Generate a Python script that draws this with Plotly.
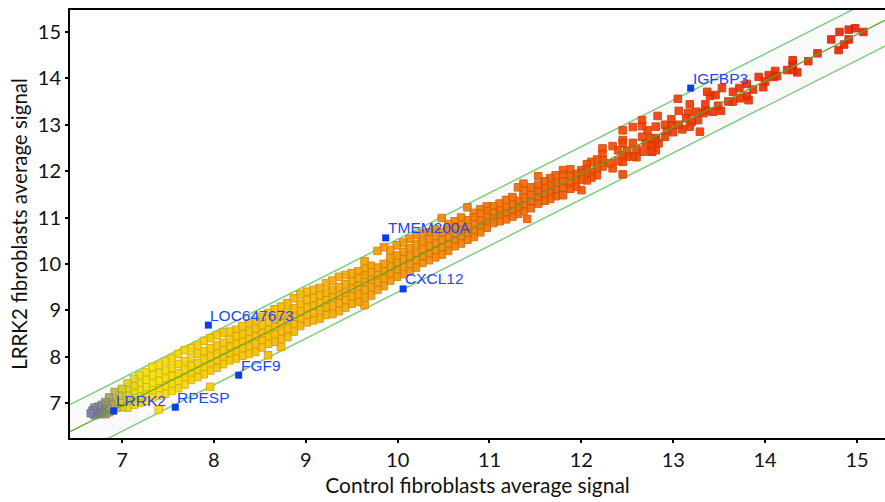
import plotly.graph_objects as go

column_x = [7.00,7.06,7.13,7.19,7.26,7.33,7.40,7.47,7.54,7.61,7.68,7.75,7.82,7.89,7.96,8.03,8.10,8.17,8.24,8.31,8.38,8.45,8.52,8.59,8.66,8.73,8.80,8.87,8.94,
            9.01,9.08,9.15,9.22,9.29,9.36,9.43,9.50,9.57,9.64,9.71,9.78,9.85,9.92,9.99,10.06,10.13,10.20,10.27,10.34,10.41,10.48,10.55,10.62,10.69,10.76,10.83,10.90,10.97,
            11.04,11.11,11.18,11.25,11.31,11.37,11.41,11.45,11.53,11.60,11.66,11.72,11.80,11.88,11.94,12.00,12.06,12.11,12.17,12.23,12.31,12.34,12.40,12.45,12.50,12.56,12.60]
column_y = [
[6.92,7.04,7.18,7.30],
[6.90,7.02,7.16,7.28,7.42],
[6.96,7.10,7.22,7.36,7.52],
[7.00,7.14,7.28,7.42,7.60],
[7.04,7.18,7.34,7.50,7.66],
[7.12,7.28,7.42,7.60,7.78],
[6.86,7.16,7.32,7.48,7.64,7.82],
[7.20,7.36,7.54,7.70,7.90],
[7.26,7.42,7.58,7.76,7.96],
[7.32,7.48,7.64,7.84,8.06],
[7.40,7.54,7.72,7.90,8.14],
[7.50,7.64,7.80,7.98,8.18],
[7.56,7.70,7.86,8.06,8.24],
[7.62,7.78,7.94,8.12,8.34],
[7.35,7.70,7.84,8.00,8.18,8.40],
[7.76,7.90,8.06,8.24,8.46],
[7.84,7.98,8.14,8.30,8.52],
[7.92,8.06,8.22,8.36,8.54],
[7.96,8.12,8.28,8.44,8.58],
[8.02,8.18,8.32,8.48,8.66],
[8.06,8.22,8.38,8.54,8.72],
[8.10,8.28,8.44,8.60,8.78],
[8.20,8.34,8.50,8.68,8.86],
[8.03,8.28,8.42,8.58,8.74,8.94],
[8.32,8.48,8.64,8.82,9.02],
[8.21,8.38,8.54,8.72,8.90,9.08],
[8.42,8.60,8.78,8.96,9.15],
[8.54,8.70,8.86,9.04,9.26],
[8.66,8.82,8.98,9.14,9.34],
[8.74,8.90,9.06,9.22,9.40],
[8.78,8.94,9.10,9.26,9.44],
[8.82,9.00,9.16,9.32,9.48],
[8.90,9.06,9.22,9.38,9.58],
[8.92,9.10,9.28,9.44,9.64],
[8.98,9.16,9.32,9.50,9.72],
[9.06,9.22,9.38,9.56,9.76],
[9.14,9.30,9.46,9.62,9.80],
[9.18,9.34,9.52,9.70,9.84],
[9.11,9.28,9.44,9.60,9.76,9.88,10.06],
[9.32,9.50,9.66,9.82,9.96],
[9.44,9.60,9.76,9.92,10.28],
[9.52,9.68,9.84,10.00,10.36],
[9.64,9.78,9.94,10.12,10.30],
[9.72,9.88,10.02,10.18,10.40],
[9.78,9.94,10.10,10.26,10.46],
[9.84,10.00,10.16,10.34,10.54],
[9.92,10.08,10.24,10.42,10.62],
[10.02,10.16,10.32,10.48,10.66],
[10.08,10.22,10.38,10.54,10.68],
[10.14,10.28,10.44,10.60,10.74],
[10.20,10.36,10.52,10.68,10.99],
[10.28,10.42,10.56,10.72,10.86],
[10.38,10.50,10.64,10.80,10.92],
[10.44,10.58,10.72,10.86,11.00],
[10.52,10.66,10.80,10.94,11.22],
[10.58,10.72,10.86,11.00,11.10],
[10.68,10.82,10.94,11.08,11.18],
[10.78,10.90,11.02,11.14,11.24],
[10.88,10.98,11.10,11.24],
[10.92,11.04,11.16,11.30],
[10.96,11.10,11.22,11.38],
[11.02,11.14,11.28,11.44],
[11.08,11.22,11.36,11.65],
[11.14,11.26,11.42,11.58,11.73],
[10.97],
[11.20,11.34,11.48,11.65],
[11.30,11.44,11.56,11.70,11.89],
[11.36,11.50,11.64,11.78],
[11.40,11.54,11.68,11.85],
[11.46,11.60,11.74,11.91],
[11.48,11.64,11.78,11.92,12.02],
[11.62,11.74,11.90,12.04],
[11.66,11.80,11.94],
[11.59,11.82,11.96,12.02],
[11.80,11.92,12.05,12.15],
[11.86,11.98,12.20],
[11.91,12.06,12.25],
[12.10,12.24,12.37,12.49],
[12.17],
[12.06,12.54],
[12.22,12.45],
[11.93,12.20,12.34,12.60,12.67,12.88],
[12.31,12.44],
[12.32,12.61,12.95],
[12.30,12.47],
]

upper_x = [12.66,12.66,12.66,12.67,12.70,12.72,12.75,12.76,12.76,12.77,12.77,12.80,12.81,12.81,12.81,12.83,12.84,12.91,12.91,12.93,12.98,12.98,13.00,13.05,13.06,13.06,13.10,13.14,13.16,13.18,13.18,13.20,13.25,13.27,13.29,13.33,13.35,13.35,13.37,13.40,13.43,13.46,13.49,13.52,13.53,13.60,13.65,13.65,13.72,13.73,13.80,13.80,13.82,13.87,13.93,13.98,14.00,14.04,14.09,14.11,14.13,14.24,14.30,14.30,14.30,14.35,14.47,14.57,14.72,14.80,14.81,14.86,14.91,14.91,14.98,15.07]
upper_y = [13.10,12.97,12.74,12.42,12.60,12.88,12.71,12.42,12.56,12.52,12.42,12.66,12.96,12.45,12.71,13.19,12.60,13.00,12.74,12.87,13.12,12.99,12.84,13.56,13.30,13.00,12.90,13.14,13.25,13.44,12.96,13.06,13.28,13.10,12.85,13.25,13.44,13.31,13.71,13.62,13.28,13.64,13.41,13.30,13.79,13.50,13.71,13.50,13.79,13.57,13.88,13.62,13.53,13.76,14.03,13.81,13.93,14.07,14.03,14.16,14.05,14.18,14.39,14.29,14.18,14.13,14.37,14.54,14.84,14.61,15.00,14.73,15.05,14.84,15.08,15.00]

blob_x = [7.00,6.98,6.97,6.95,6.92,6.92,6.90,6.88,6.86,6.86,6.84,6.82,6.82,6.80,6.78,6.78,6.76,6.74,6.74,6.72,6.70,6.70,6.68,6.66]
blob_y = [7.30,7.00,7.16,6.90,7.04,7.24,6.84,6.98,6.80,7.12,6.90,6.76,7.02,6.86,6.78,6.96,6.86,6.76,6.92,6.80,6.74,6.90,6.84,6.78]

control_signal = upper_x[::-1] + [x for x, ys in zip(column_x, column_y) for _ in ys][::-1] + blob_x
lrrk2_signal = upper_y[::-1] + [y for ys in column_y for y in ys][::-1] + blob_y

gene_names = ["IGFBP3", "TMEM200A", "CXCL12", "LOC647673", "FGF9", "RPESP", "LRRK2"]
gene_control = [13.19, 9.87, 10.06, 7.94, 8.27, 7.58, 6.91]
gene_lrrk2 = [13.79, 10.56, 9.46, 8.68, 7.60, 6.91, 6.83]

x_ends = [6.434, 15.305]
upper_band = [6.964, 15.835]
lower_band = [5.824, 14.695]
center_line = [6.38, 15.25]
tick_values = [7, 8, 9, 10, 11, 12, 13, 14, 15]

fill_stops = [[0.0, "#7c80a8"], [0.02, "#9a9a70"], [0.04, "#d8d020"], [0.076, "#f5e000"], [0.16, "#f2c800"],
              [0.28, "#f4b400"], [0.40, "#f09400"], [0.517, "#f07400"], [0.577, "#f06200"], [0.696, "#f04400"],
              [0.815, "#f03000"], [1.0, "#ee1c00"]]
edge_stops = [[0.0, "#686c90"], [0.02, "#82825c"], [0.04, "#b8b018"], [0.076, "#d4bc00"], [0.16, "#d8a800"],
              [0.28, "#d89400"], [0.40, "#d87c00"], [0.517, "#d46000"], [0.577, "#d45200"], [0.696, "#d43c00"],
              [0.815, "#d43000"], [1.0, "#d42000"]]

BLUE = "#2347f5"
fig = go.Figure()
fig.add_trace(go.Scatter(x=x_ends, y=lower_band, mode="lines", line=dict(color="#82cf82", width=1.5), hoverinfo="skip"))
fig.add_trace(go.Scatter(x=x_ends, y=upper_band, mode="lines", line=dict(color="#82cf82", width=1.5),
                         fill="tonexty", fillcolor="#fafafa", hoverinfo="skip"))
fig.add_trace(go.Scatter(x=control_signal, y=lrrk2_signal, mode="markers",
                         marker=dict(symbol="square", size=7.5, color=control_signal, colorscale=fill_stops,
                                     cmin=6.66, cmax=15.05, opacity=0.9,
                                     line=dict(color=control_signal, colorscale=edge_stops, cmin=6.66, cmax=15.05, width=1))))
fig.add_trace(go.Scatter(x=x_ends, y=center_line, mode="lines", line=dict(color="#5ca52e", width=1.2), hoverinfo="skip"))
fig.add_trace(go.Scatter(x=gene_control, y=gene_lrrk2, mode="markers",
                         marker=dict(symbol="square", size=7, color="#0b3df0")))

for name, gx, gy in zip(gene_names, gene_control, gene_lrrk2):
    fig.add_annotation(x=gx, y=gy, text=name, showarrow=False, xanchor="left", yanchor="middle",
                       xshift=0, yshift=10, font=dict(family="Liberation Sans", size=15.5, color=BLUE))

fig.update_layout(
    width=885, height=502, autosize=False, showlegend=False,
    margin=dict(l=70, r=0, t=10, b=64, autoexpand=False),
    paper_bgcolor="white", plot_bgcolor="white",
    font=dict(family="Lato", color="#111111"),
)
fig.update_xaxes(range=[6.434, 15.305], tickmode="array", tickvals=tick_values, automargin=False,
                 showgrid=False, zeroline=False, showline=True, linecolor="black", linewidth=2, mirror=True,
                 ticks="outside", ticklen=3, tickwidth=1.5, tickcolor="black", tickfont=dict(size=20),
                 title=dict(text="Control fibroblasts average signal", font=dict(size=21), standoff=8))
fig.update_yaxes(range=[6.246, 15.474], tickmode="array", tickvals=tick_values, automargin=False,
                 showgrid=False, zeroline=False, showline=True, linecolor="black", linewidth=2,
                 ticks="outside", ticklen=3, tickwidth=1.5, tickcolor="black", tickfont=dict(size=20),
                 title=dict(text="LRRK2 fibroblasts average signal", font=dict(size=20.5), standoff=5))
fig.write_html("out.html", config={"displayModeBar": False},
               post_script="document.body.style.margin='0';document.documentElement.style.overflow='hidden';")
